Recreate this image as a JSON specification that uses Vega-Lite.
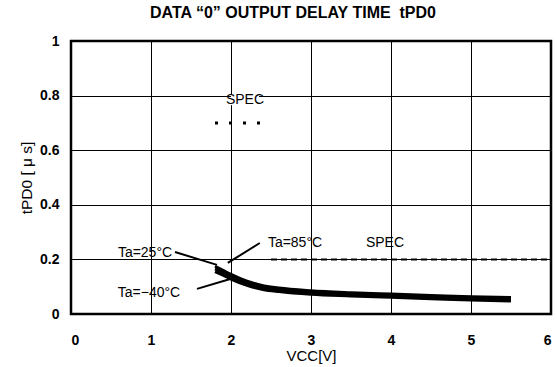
{
  "$schema": "https://vega.github.io/schema/vega-lite/v6.json",
  "width": 480,
  "height": 273,
  "autosize": {"type": "none"},
  "padding": {"left": 71, "top": 41, "right": 6, "bottom": 53},
  "background": "white",
  "config": {
    "view": {"stroke": "black", "strokeWidth": 2.5},
    "font": "Liberation Sans"
  },
  "title": {
    "text": "DATA \u201c0\u201d OUTPUT DELAY TIME \u00a0tPD0",
    "fontSize": 16,
    "fontWeight": "bold",
    "font": "Liberation Sans",
    "anchor": "middle",
    "offset": 13,
    "dx": -18,
    "color": "black"
  },
  "datasets": {
    "curves": [
      {"vcc": 1.8, "t": 0.175, "ta": "85"}, {"vcc": 1.9, "t": 0.16, "ta": "85"}, {"vcc": 2.0, "t": 0.145, "ta": "85"}, {"vcc": 2.2, "t": 0.12, "ta": "85"}, {"vcc": 2.4, "t": 0.104, "ta": "85"}, {"vcc": 2.6, "t": 0.095, "ta": "85"}, {"vcc": 3.0, "t": 0.085, "ta": "85"}, {"vcc": 3.5, "t": 0.078, "ta": "85"}, {"vcc": 4.0, "t": 0.073, "ta": "85"}, {"vcc": 4.5, "t": 0.068, "ta": "85"}, {"vcc": 5.0, "t": 0.063, "ta": "85"}, {"vcc": 5.5, "t": 0.06, "ta": "85"},
      {"vcc": 1.8, "t": 0.165, "ta": "25"}, {"vcc": 1.9, "t": 0.152, "ta": "25"}, {"vcc": 2.0, "t": 0.138, "ta": "25"}, {"vcc": 2.2, "t": 0.114, "ta": "25"}, {"vcc": 2.4, "t": 0.098, "ta": "25"}, {"vcc": 2.6, "t": 0.089, "ta": "25"}, {"vcc": 3.0, "t": 0.079, "ta": "25"}, {"vcc": 3.5, "t": 0.073, "ta": "25"}, {"vcc": 4.0, "t": 0.068, "ta": "25"}, {"vcc": 4.5, "t": 0.063, "ta": "25"}, {"vcc": 5.0, "t": 0.058, "ta": "25"}, {"vcc": 5.5, "t": 0.055, "ta": "25"},
      {"vcc": 1.8, "t": 0.155, "ta": "-40"}, {"vcc": 1.9, "t": 0.142, "ta": "-40"}, {"vcc": 2.0, "t": 0.128, "ta": "-40"}, {"vcc": 2.2, "t": 0.105, "ta": "-40"}, {"vcc": 2.4, "t": 0.09, "ta": "-40"}, {"vcc": 2.6, "t": 0.082, "ta": "-40"}, {"vcc": 3.0, "t": 0.072, "ta": "-40"}, {"vcc": 3.5, "t": 0.066, "ta": "-40"}, {"vcc": 4.0, "t": 0.061, "ta": "-40"}, {"vcc": 4.5, "t": 0.056, "ta": "-40"}, {"vcc": 5.0, "t": 0.051, "ta": "-40"}, {"vcc": 5.5, "t": 0.048, "ta": "-40"}
    ],
    "leaders": [
      {"x1": 1.3, "y1": 0.227, "x2": 1.825, "y2": 0.18},
      {"x1": 1.575, "y1": 0.092, "x2": 1.99, "y2": 0.128},
      {"x1": 2.36, "y1": 0.26, "x2": 1.96, "y2": 0.187}
    ],
    "labels": [
      {"x": 0.925, "y": 0.223, "text": "Ta=25\u00b0C"},
      {"x": 0.975, "y": 0.077, "text": "Ta=\u221240\u00b0C"},
      {"x": 2.8, "y": 0.26, "text": "Ta=85\u00b0C"},
      {"x": 3.925, "y": 0.26, "text": "SPEC"},
      {"x": 2.175, "y": 0.784, "text": "SPEC"}
    ]
  },
  "layer": [
    {
      "data": {"values": [{"x": 0, "y": 0}]},
      "mark": {"type": "point", "opacity": 0},
      "encoding": {
        "x": {
          "field": "x", "type": "quantitative",
          "scale": {"domain": [0, 6], "nice": false},
          "axis": {
            "values": [0, 1, 2, 3, 4, 5, 6],
            "format": "~g",
            "grid": true, "gridColor": "black", "gridWidth": 1, "gridOpacity": 1,
            "domain": false, "ticks": false,
            "labelFont": "Liberation Sans", "labelFontWeight": "bold", "labelFontSize": 14, "labelColor": "black",
            "labelPadding": 19,
            "title": "VCC[V]", "titleFont": "Liberation Sans", "titleFontWeight": "normal", "titleFontSize": 15, "titleColor": "black",
            "titlePadding": 1
          }
        },
        "y": {
          "field": "y", "type": "quantitative",
          "scale": {"domain": [0, 1], "nice": false},
          "axis": {
            "values": [0, 0.2, 0.4, 0.6, 0.8, 1],
            "format": "~g",
            "grid": true, "gridColor": "black", "gridWidth": 1, "gridOpacity": 1,
            "domain": false, "ticks": false,
            "labelFont": "Liberation Sans", "labelFontWeight": "bold", "labelFontSize": 14, "labelColor": "black",
            "labelPadding": 12,
            "title": "tPD0 [\u00a0\u03bc\u00a0s]", "titleFont": "Liberation Sans", "titleFontWeight": "normal", "titleFontSize": 15.5, "titleColor": "black",
            "titlePadding": 5
          }
        }
      }
    },
    {
      "data": {"values": [{"x1": 2.0, "x2": 2.35, "y1": 0.765, "y2": 0.805}]},
      "mark": {"type": "rect", "color": "white"},
      "encoding": {
        "x": {"field": "x1", "type": "quantitative"},
        "x2": {"field": "x2"},
        "y": {"field": "y1", "type": "quantitative"},
        "y2": {"field": "y2"}
      }
    },
    {
      "data": {"values": [{"x1": 1.8, "x2": 2.5, "y": 0.7}]},
      "mark": {"type": "rule", "color": "black", "strokeWidth": 3, "strokeDash": [3, 11]},
      "encoding": {
        "x": {"field": "x1", "type": "quantitative"},
        "x2": {"field": "x2"},
        "y": {"field": "y", "type": "quantitative"}
      }
    },
    {
      "data": {"values": [{"x1": 2.5, "x2": 6, "y": 0.2}]},
      "mark": {"type": "rule", "color": "black", "strokeWidth": 2, "strokeDash": [6, 4]},
      "encoding": {
        "x": {"field": "x1", "type": "quantitative"},
        "x2": {"field": "x2"},
        "y": {"field": "y", "type": "quantitative"}
      }
    },
    {
      "data": {"name": "curves"},
      "mark": {"type": "line", "color": "black", "strokeWidth": 3, "interpolate": "monotone"},
      "encoding": {
        "x": {"field": "vcc", "type": "quantitative"},
        "y": {"field": "t", "type": "quantitative"},
        "detail": {"field": "ta"}
      }
    },
    {
      "data": {"name": "leaders"},
      "mark": {"type": "rule", "color": "black", "strokeWidth": 2},
      "encoding": {
        "x": {"field": "x1", "type": "quantitative"},
        "y": {"field": "y1", "type": "quantitative"},
        "x2": {"field": "x2"},
        "y2": {"field": "y2"}
      }
    },
    {
      "data": {"name": "labels"},
      "mark": {"type": "text", "font": "Liberation Sans", "fontSize": 14, "color": "black", "align": "center", "baseline": "middle"},
      "encoding": {
        "x": {"field": "x", "type": "quantitative"},
        "y": {"field": "y", "type": "quantitative"},
        "text": {"field": "text"}
      }
    }
  ]
}
